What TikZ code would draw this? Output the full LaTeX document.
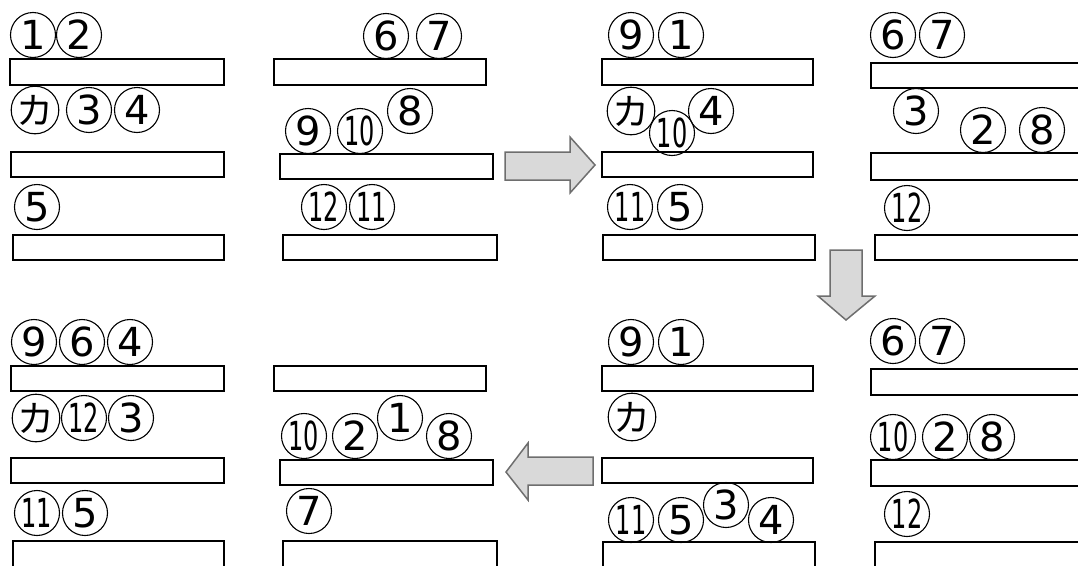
\documentclass[tikz,border=0pt]{standalone}
\usepackage{fontspec}
\usepackage{graphicx}
\setmainfont{DejaVu Sans}
\newfontfamily\jpfont{Noto Sans CJK JP}
\definecolor{arrowfill}{HTML}{D9D9D9}
\definecolor{arrowline}{HTML}{6E6E6E}
\newcommand\two[1]{\scalebox{0.6}[1]{#1}}
\newcommand\ka{{\jpfont\fontsize{37}{37}\selectfont\raisebox{1pt}{カ}}}
\begin{document}
\begin{tikzpicture}[x=1pt,y=-1pt,
  num/.style={circle,draw,line width=1.1pt,minimum size=45pt,inner sep=0pt,
    font=\fontsize{40}{40}\selectfont},
  bar/.style={draw,line width=1.5pt},
  garrow/.style={fill=arrowfill,draw=arrowline,line width=1.5pt,line join=miter}]
\useasboundingbox (0,0) rectangle (1078,565);
\clip (0,0) rectangle (1078,565);

% ---- shelves: panel top left
\draw[bar] (10,59) rectangle (224,85);
\draw[bar] (11,152) rectangle (224,177);
\draw[bar] (13,235) rectangle (224,260);
\node[num] (a1) at (33,35) {1};
\node[num] (a2) at (79,35) {2};
\node[num] (aka) at (35,110) {\ka};
\node[num] (a3) at (89,110) {3};
\node[num] (a4) at (137,110) {4};
\node[num] (a5) at (37,207) {5};

% ---- panel top, second
\draw[bar] (274,59) rectangle (486,85);
\draw[bar] (280,154) rectangle (493,179);
\draw[bar] (283,235) rectangle (497,260);
\node[num] (b6) at (386,36) {6};
\node[num] (b7) at (439,36) {7};
\node[num] (b9) at (308,131) {9};
\node[num] (b10) at (360,131) {\two{10}};
\node[num] (b8) at (410,111) {8};
\node[num] (b12) at (324,207) {\two{12}};
\node[num] (b11) at (372,207) {\two{11}};

% ---- panel top, third
\draw[bar] (602,59) rectangle (813,85);
\draw[bar] (602,152) rectangle (813,177);
\draw[bar] (603,235) rectangle (815,260);
\node[num] (c9) at (631,35) {9};
\node[num] (c1) at (681,35) {1};
\node[num] (cka) at (631,111) {\ka};
\node[num] (c4) at (711,111) {4};
\node[num] (c10) at (672,133) {\two{10}};
\node[num] (c11) at (630,207) {\two{11}};
\node[num] (c5) at (680,207) {5};

% ---- panel top right
\draw[bar] (871,63) rectangle (1090,88);
\draw[bar] (871,153) rectangle (1090,180);
\draw[bar] (875,235) rectangle (1090,260);
\node[num] (d6) at (893,35) {6};
\node[num] (d7) at (942,35) {7};
\node[num] (d3) at (916,111) {3};
\node[num] (d2) at (983,130) {2};
\node[num] (d8) at (1042,130) {8};
\node[num] (d12) at (907,208) {\two{12}};

% ---- panel bottom right
\draw[bar] (871,369) rectangle (1090,395);
\draw[bar] (871,460) rectangle (1090,486);
\draw[bar] (875,542) rectangle (1090,570);
\node[num] (e6) at (893,341) {6};
\node[num] (e7) at (942,341) {7};
\node[num] (e10) at (893,437) {\two{10}};
\node[num] (e2) at (945,437) {2};
\node[num] (e8) at (992,437) {8};
\node[num] (e12) at (907,514) {\two{12}};

% ---- panel bottom, third
\draw[bar] (602,366) rectangle (813,391);
\draw[bar] (602,458) rectangle (813,483);
\draw[bar] (603,542) rectangle (815,570);
\node[num] (f9) at (631,342) {9};
\node[num] (f1) at (681,342) {1};
\node[num] (fka) at (632,417) {\ka};
\node[num] (f11) at (631,520) {\two{11}};
\node[num] (f5) at (681,520) {5};
\node[num] (f3) at (726,505) {3};
\node[num] (f4) at (771,520) {4};

% ---- panel bottom, second
\draw[bar] (274,366) rectangle (486,391);
\draw[bar] (280,460) rectangle (493,485);
\draw[bar] (283,541) rectangle (497,570);
\node[num] (g10) at (304,436) {\two{10}};
\node[num] (g2) at (355,436) {2};
\node[num] (g1) at (400,418) {1};
\node[num] (g8) at (449,436) {8};
\node[num] (g7) at (309,511) {7};

% ---- panel bottom left
\draw[bar] (11,366) rectangle (224,391);
\draw[bar] (11,458) rectangle (224,483);
\draw[bar] (13,541) rectangle (224,570);
\node[num] (h9) at (34,342) {9};
\node[num] (h6) at (82,342) {6};
\node[num] (h4) at (130,342) {4};
\node[num] (hka) at (36,418) {\ka};
\node[num] (h12) at (84,418) {\two{12}};
\node[num] (h3) at (131,418) {3};
\node[num] (h11) at (37,513) {\two{11}};
\node[num] (h5) at (85,513) {5};

% ---- block arrows between stages
\draw[garrow] (505,152) -- (570,152) -- (570,137) -- (595,165)
  -- (570,193) -- (570,180) -- (505,180) -- cycle;
\draw[garrow] (830,250) -- (862,250) -- (862,296) -- (875,296) -- (846,320)
  -- (818,296) -- (830,296) -- cycle;
\draw[garrow] (593,457) -- (528,457) -- (528,443) -- (506,472)
  -- (528,500) -- (528,485) -- (593,485) -- cycle;
\end{tikzpicture}
\end{document}
